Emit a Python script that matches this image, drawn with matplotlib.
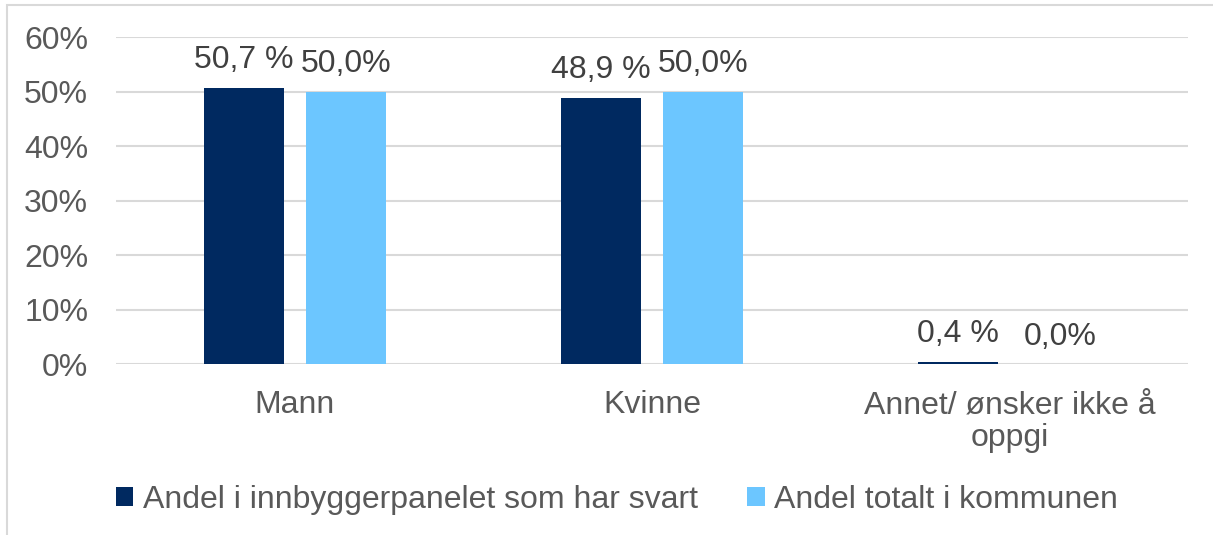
import matplotlib
matplotlib.use('Agg')
import matplotlib.pyplot as plt
import numpy as np

# categories and values (share, %)
categories = ["Mann", "Kvinne", "Annet/ ønsker ikke å\noppgi"]
panel = [50.7, 48.9, 0.4]
total = [50.0, 50.0, 0.0]
panel_labels = ["50,7 %", "48,9 %", "0,4 %"]
total_labels = ["50,0%", "50,0%", "0,0%"]
series_names = ["Andel i innbyggerpanelet som har svart", "Andel totalt i kommunen"]
yticks = [0, 10, 20, 30, 40, 50, 60]

plt.rcParams['font.family'] = ['Liberation Sans', 'DejaVu Sans']
txt = '#595959'
fs = 23

fig = plt.figure(figsize=(12.13, 5.35), dpi=100)
ax = fig.add_axes([0.0956, 0.3196, 0.8838, 0.6112])

x = np.arange(len(categories))
w = 0.224
off = 0.143
b1 = ax.bar(x - off, panel, w, color='#002960', zorder=2)
b2 = ax.bar(x + off, total, w, color='#6CC6FF', zorder=2)

for bars, labs in ((b1, panel_labels), (b2, total_labels)):
    for rect, lab in zip(bars, labs):
        ax.annotate(lab, (rect.get_x() + rect.get_width() / 2, rect.get_height()),
                    xytext=(0, 9), textcoords='offset points', ha='center', va='bottom',
                    fontsize=fs, color='#404040')

ax.set_xlim(-0.5, 2.5)
ax.set_ylim(0, 60)
ax.set_yticks(yticks)
ax.set_yticklabels([f"{t}%" for t in yticks], fontsize=fs, color=txt)
ax.set_xticks(x)
ax.set_xticklabels(categories, fontsize=fs, color=txt, linespacing=1.12)
ax.tick_params(axis='both', length=0)
ax.tick_params(axis='x', pad=19)
ax.tick_params(axis='y', pad=20)
ax.grid(axis='y', color='#D9D9D9', linewidth=1.5, zorder=0)
for s in ax.spines.values():
    s.set_visible(False)

leg = fig.legend([b1, b2], series_names, loc='center', bbox_to_anchor=(617 / 1213, 35 / 535),
                 ncol=2, frameon=False, fontsize=fs, handlelength=0.55, handleheight=0.55,
                 handletextpad=0.3, columnspacing=1.55)
for t in leg.get_texts():
    t.set_color(txt)

# chart border
fig.add_artist(plt.Rectangle((7 / 1213, -0.1), 1.2, (530 / 535) + 0.1, transform=fig.transFigure,
                             fill=False, edgecolor='#D9D9D9', linewidth=1.5))

plt.savefig("out.png", dpi=100)
